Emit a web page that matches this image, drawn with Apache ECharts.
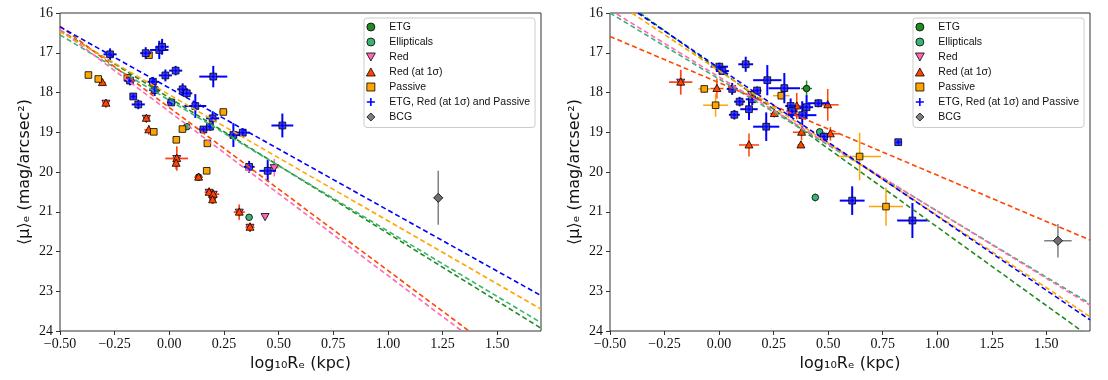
<!DOCTYPE html>
<html><head><meta charset="utf-8">
<script src="https://cdn.jsdelivr.net/npm/echarts@6/dist/echarts.min.js"></script>
<style>html,body{margin:0;padding:0;background:#fff}#c{width:1108px;height:380px}</style>
</head><body><div id="c"></div>
<script>
// ---------- data: [log10 Re, <mu>_e, xerr, yerr] ----------
const L_ETG  = [[0.134,20.13,0.015,0.07]];
const L_ELL  = [[0.080,18.86,0.015,0.06],[0.365,21.14,0.015,0.07]];
const L_RED  = [[-0.290,18.27,0.015,0.08],[-0.105,18.65,0.015,0.08],[0.034,19.66,0.052,0.30],[0.182,20.51,0.020,0.12],[0.201,20.56,0.027,0.10],[0.198,20.70,0.015,0.10],[0.320,21.01,0.025,0.19],[0.369,21.39,0.020,0.12],[0.438,21.12,0.010,0.06],[0.480,19.89,0.020,0.22]];
const L_RED1 = [[-0.306,17.75,0.015,0.08],[-0.290,18.27,0.015,0.10],[-0.105,18.65,0.015,0.08],[-0.094,18.94,0.020,0.12],[0.034,19.66,0.052,0.30],[0.031,19.78,0.015,0.15],[0.134,20.13,0.020,0.08],[0.182,20.51,0.020,0.12],[0.201,20.56,0.027,0.10],[0.198,20.70,0.015,0.10],[0.320,21.01,0.025,0.19],[0.369,21.39,0.020,0.12]];
const L_PAS  = [[-0.370,17.56,0.010,0.05],[-0.325,17.66,0.010,0.06],[-0.192,17.63,0.015,0.06],[-0.093,17.06,0.010,0.06],[-0.071,18.99,0.015,0.05],[0.032,19.19,0.010,0.05],[0.060,18.92,0.015,0.06],[0.174,19.28,0.010,0.05],[0.171,19.97,0.010,0.05],[0.247,18.49,0.020,0.08]];
const L_ALL  = [[-0.271,17.04,0.030,0.15],[-0.180,17.70,0.025,0.12],[-0.165,18.10,0.015,0.08],[-0.142,18.30,0.030,0.12],[-0.108,17.01,0.025,0.15],[-0.075,17.73,0.025,0.12],[-0.067,17.94,0.025,0.15],[-0.046,16.93,0.042,0.23],[-0.033,16.85,0.030,0.20],[-0.018,17.57,0.030,0.15],[0.009,18.25,0.020,0.08],[0.029,17.45,0.030,0.12],[0.061,17.92,0.025,0.15],[0.080,18.02,0.025,0.10],[0.119,18.34,0.050,0.30],[0.156,18.93,0.020,0.08],[0.186,18.86,0.020,0.10],[0.198,18.65,0.030,0.18],[0.201,17.60,0.064,0.27],[0.293,19.07,0.030,0.30],[0.336,19.01,0.030,0.10],[0.365,19.87,0.025,0.15],[0.450,19.97,0.038,0.27],[0.517,18.83,0.050,0.30]];
const L_BCG  = [[1.230,20.65,0.020,0.68]];

const R_ETG  = [[0.401,17.90,0.025,0.20]];
const R_ELL  = [[0.461,18.99,0.015,0.06],[0.441,20.64,0.010,0.10]];
const R_RED  = [[-0.176,17.74,0.053,0.31],[0.149,18.05,0.020,0.10]];
const R_RED1 = [[-0.176,17.74,0.053,0.31],[-0.010,17.90,0.030,0.25],[0.137,19.32,0.046,0.29],[0.253,18.53,0.020,0.10],[0.356,18.34,0.020,0.33],[0.378,19.00,0.040,0.20],[0.375,19.32,0.015,0.07],[0.498,18.31,0.050,0.40],[0.510,19.04,0.040,0.17]];
const R_PAS  = [[-0.068,17.91,0.027,0.10],[-0.016,18.32,0.057,0.29],[0.285,18.08,0.038,0.10],[0.644,19.61,0.098,0.60],[0.765,20.87,0.078,0.48]];
const R_ALL  = [[0.001,17.35,0.040,0.10],[0.015,17.46,0.030,0.08],[0.060,17.91,0.025,0.15],[0.070,18.56,0.025,0.12],[0.094,18.23,0.025,0.12],[0.122,17.29,0.034,0.19],[0.137,18.42,0.040,0.27],[0.152,18.17,0.030,0.15],[0.174,17.95,0.020,0.10],[0.221,17.69,0.065,0.38],[0.216,18.86,0.060,0.36],[0.299,17.89,0.072,0.38],[0.328,18.34,0.025,0.19],[0.334,18.47,0.025,0.15],[0.381,18.57,0.065,0.35],[0.401,18.37,0.030,0.30],[0.455,18.27,0.050,0.10],[0.481,19.11,0.020,0.10],[0.821,19.25,0.015,0.08],[0.610,20.72,0.057,0.36],[0.886,21.22,0.070,0.44]];
const R_BCG  = [[1.553,21.73,0.063,0.42]];

// fitted relations (end points)
const FIT_L_ETG  = [[-0.5,16.43],[1.7,23.93]];
const FIT_L_ELL  = [[-0.5,16.55],[1.7,23.79]];
const FIT_L_RED  = [[-0.5,16.42],[1.338,24.0]];
const FIT_L_RED1 = [[-0.5,16.33],[1.371,24.0]];
const FIT_L_PAS  = [[-0.5,16.47],[1.7,23.45]];
const FIT_L_ALL  = [[-0.5,16.35],[1.7,23.11]];
const FIT_R_ETG  = [[-0.363,16.0],[1.662,24.0]];
const FIT_R_ELL  = [[-0.5,16.0],[1.7,23.31]];
const FIT_R_RED  = [[-0.5,15.92],[1.7,23.35]];
const FIT_R_RED1 = [[-0.5,16.59],[1.7,21.71]];
const FIT_R_PAS  = [[-0.40,16.0],[1.7,23.64]];
const FIT_R_ALL  = [[-0.372,16.0],[1.7,23.72]];

const X_TICKS = [-0.5,-0.25,0,0.25,0.5,0.75,1,1.25,1.5];
const Y_TICKS = [16,17,18,19,20,21,22,23,24];
const NAMES = ['ETG','Ellipticals','Red','Red (at 1σ)','Passive','ETG, Red (at 1σ) and Passive','BCG'];

// ---------- styling ----------
const COL = {ETG:'#228B22', ELL:'#3CB371', RED:'#FF69B4', RED1:'#FF4500', PAS:'#FFA500', ALL:'#0000FF', BCG:'#808080'};
const SERIF = '"Liberation Serif","DejaVu Serif",serif';
const SANS = '"DejaVu Sans",sans-serif';

function marker(shape, cx, cy, fill){
  const st = {fill: fill, stroke:'#000', lineWidth:0.8};
  switch(shape){
    case 'circle': return {type:'circle', shape:{cx:cx, cy:cy, r:3.3}, style:st};
    case 'up': return {type:'polygon', shape:{points:[[cx,cy-4.2],[cx-4,cy+3],[cx+4,cy+3]]}, style:st};
    case 'down': return {type:'polygon', shape:{points:[[cx-4,cy-3],[cx+4,cy-3],[cx,cy+4.2]]}, style:st};
    case 'square': return {type:'rect', shape:{x:cx-3.3, y:cy-3.3, width:6.6, height:6.6}, style:st};
    case 'diamond': return {type:'polygon', shape:{points:[[cx,cy-4.6],[cx+4.6,cy],[cx,cy+4.6],[cx-4.6,cy]]}, style:st};
    case 'all': return {type:'group', children:[
      {type:'rect', shape:{x:cx-3.4, y:cy-3.4, width:6.8, height:6.8}, style:{fill:'#3a3aff', stroke:'#000', lineWidth:0.8}},
      {type:'polygon', shape:{points:[[cx,cy-3],[cx+0.9,cy-0.9],[cx+3,cy],[cx+0.9,cy+0.9],[cx,cy+3],[cx-0.9,cy+0.9],[cx-3,cy],[cx-0.9,cy-0.9]]}, style:{fill:'#0000ff', stroke:'none'}}
    ]};
  }
}

function errSeries(name, data, panel, shape, color, fill, ew){
  return {
    type:'custom', name:name, xAxisIndex:panel, yAxisIndex:panel, data:data,
    itemStyle:{color:color},
    encode:{x:0, y:1},
    z: 3,
    renderItem: function(params, api){
      const x = api.value(0), y = api.value(1), xe = api.value(2), ye = api.value(3);
      const c = api.coord([x,y]);
      const l = api.coord([x-xe,y]), r = api.coord([x+xe,y]);
      const t = api.coord([x,y-ye]), b = api.coord([x,y+ye]);
      return {type:'group', children:[
        {type:'line', shape:{x1:l[0], y1:c[1], x2:r[0], y2:c[1]}, style:{stroke:color, lineWidth:ew}},
        {type:'line', shape:{x1:c[0], y1:t[1], x2:c[0], y2:b[1]}, style:{stroke:color, lineWidth:ew}},
        marker(shape, c[0], c[1], fill)
      ]};
    }
  };
}

function fitSeries(data, panel, color){
  return {type:'line', name:'fit', xAxisIndex:panel, yAxisIndex:panel, data:data,
    showSymbol:false, silent:true, clip:true, z:5,
    lineStyle:{color:color, width:1.6, type:[5,3]}};
}

function fmtX(v){ return (v<0?'\u2212':'') + Math.abs(v).toFixed(2); }

function xAxis(i){
  return {type:'value', gridIndex:i, min:-0.5, max:1.7, interval:0.25,
    axisLine:{show:false, onZero:false}, splitLine:{show:false},
    axisTick:{show:true, length:4, customValues:X_TICKS, lineStyle:{color:'#333', width:1}},
    axisLabel:{customValues:X_TICKS, formatter:fmtX, fontFamily:SERIF, fontSize:14, color:'#111', margin:6},
    name:'log\u2081\u2080R\u2091 (kpc)', nameLocation:'middle', nameGap:21,
    nameTextStyle:{fontFamily:SANS, fontSize:16, color:'#111'}};
}
function yAxis(i){
  return {type:'value', gridIndex:i, min:16, max:24, interval:1, inverse:true,
    axisLine:{show:false, onZero:false}, splitLine:{show:false},
    axisTick:{show:true, length:4, customValues:Y_TICKS, lineStyle:{color:'#333', width:1}},
    axisLabel:{customValues:Y_TICKS, fontFamily:SERIF, fontSize:14, color:'#111', margin:7},
    name:'\u27E8\u03BC\u27E9\u2091 (mag/arcsec\u00B2)', nameLocation:'middle', nameGap:27, nameRotate:90,
    nameTextStyle:{fontFamily:SANS, fontSize:16, color:'#111'}};
}

const legendData = [
  {name:NAMES[0], icon:'circle'},
  {name:NAMES[1], icon:'circle'},
  {name:NAMES[2], icon:'path://M0,0L10,0L5,9Z'},
  {name:NAMES[3], icon:'path://M5,0L10,9L0,9Z'},
  {name:NAMES[4], icon:'path://M0,0H10V10H0Z'},
  {name:NAMES[5], icon:'path://M4,0H6V4H10V6H6V10H4V6H0V4H4Z', itemStyle:{borderWidth:0}},
  {name:NAMES[6], icon:'path://M5,0L10,5L5,10L0,5Z'}
];
function legend(left){
  return {left:left, top:18, orient:'vertical', data:legendData, selectedMode:false,
    itemWidth:27, itemHeight:8, itemGap:0,
    itemStyle:{borderColor:'#000', borderWidth:0.8},
    textStyle:{fontFamily:'"Liberation Sans",sans-serif', fontSize:10.5, lineHeight:15, color:'#111'},
    backgroundColor:'rgba(255,255,255,0.85)', borderColor:'#ccc', borderWidth:1, borderRadius:3,
    padding:[1.5,5,3,2]};
}

const series = [];
[[0,[L_ETG,L_ELL,L_RED,L_RED1,L_PAS,L_ALL,L_BCG]],[1,[R_ETG,R_ELL,R_RED,R_RED1,R_PAS,R_ALL,R_BCG]]].forEach(([p,d])=>{
  series.push(errSeries(NAMES[0], d[0], p, 'circle', COL.ETG, COL.ETG, 1.5));
  series.push(errSeries(NAMES[1], d[1], p, 'circle', COL.ELL, COL.ELL, 1.5));
  series.push(errSeries(NAMES[2], d[2], p, 'down', COL.RED, COL.RED, 1.5));
  series.push(errSeries(NAMES[3], d[3], p, 'up', COL.RED1, COL.RED1, 1.5));
  series.push(errSeries(NAMES[4], d[4], p, 'square', COL.PAS, COL.PAS, 1.5));
  series.push(errSeries(NAMES[5], d[5], p, 'all', COL.ALL, COL.ALL, 2));
  series.push(errSeries(NAMES[6], d[6], p, 'diamond', COL.BCG, '#6e6e6e', 1.5));
});
[[0,[FIT_L_ETG,FIT_L_ELL,FIT_L_RED,FIT_L_RED1,FIT_L_PAS,FIT_L_ALL]],[1,[FIT_R_ETG,FIT_R_ELL,FIT_R_RED,FIT_R_RED1,FIT_R_PAS,FIT_R_ALL]]].forEach(([p,f])=>{
  series.push(fitSeries(f[0], p, COL.ETG));
  series.push(fitSeries(f[1], p, COL.ELL));
  series.push(fitSeries(f[2], p, COL.RED));
  series.push(fitSeries(f[3], p, COL.RED1));
  series.push(fitSeries(f[4], p, COL.PAS));
  series.push(fitSeries(f[5], p, COL.ALL));
});

const chart = echarts.init(document.getElementById('c'), null, {renderer:'canvas'});
chart.setOption({
  animation:false,
  backgroundColor:'#fff',
  grid:[
    {left:60, top:13, width:481, height:318, show:true, borderColor:'#333', borderWidth:1, backgroundColor:'transparent'},
    {left:610, top:13, width:480, height:318, show:true, borderColor:'#333', borderWidth:1, backgroundColor:'transparent'}
  ],
  xAxis:[xAxis(0), xAxis(1)],
  yAxis:[yAxis(0), yAxis(1)],
  legend:[legend(364), legend(913)],
  series:series
});
</script></body></html>
